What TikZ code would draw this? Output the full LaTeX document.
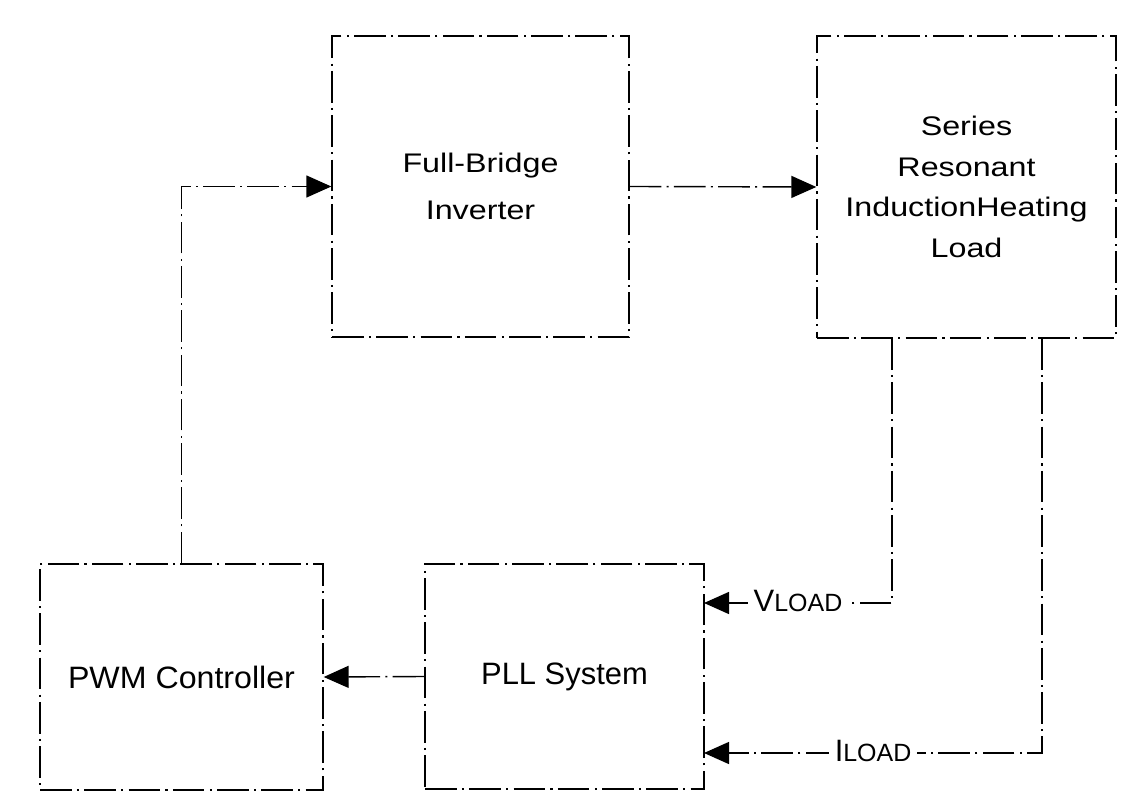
\documentclass[tikz,border=0pt]{standalone}
\usepackage{graphicx}
\usepackage{fontspec}
\setmainfont{Liberation Sans}
\usetikzlibrary{arrows.meta}
\begin{document}
\begin{tikzpicture}[x=0.02cm,y=-0.02cm,
  ln/.style={line width=0.8pt, dash pattern=on 18pt off 3pt on 1.2pt off 3pt},
  blk/.style={draw, ln, inner sep=0pt, align=center},
  toptxt/.style={font=\fontsize{15.3}{26.6}\selectfont},
  bottxt/.style={font=\fontsize{17.6}{21}\selectfont},
  conn/.style={ln, -{Triangle[length=0.5cm,width=0.44cm]}},
  sig/.style={fill=white, inner sep=3pt, font=\fontsize{17.6}{20}\selectfont}
]
\useasboundingbox (0,0) rectangle (1128,810);

% blocks
\node[blk, toptxt, minimum width=5.94cm, minimum height=6.02cm] (fb) at (480.5,186.5)
  {\scalebox{1.2}[1]{Full-Bridge}\\\scalebox{1.2}[1]{Inverter}};
\node[blk, font=\fontsize{15.3}{23.2}\selectfont, minimum width=5.98cm, minimum height=6.04cm] (srl) at (966.5,187)
  {\scalebox{1.2}[1]{Series}\\\scalebox{1.2}[1]{Resonant}\\\scalebox{1.2}[1]{InductionHeating}\\\scalebox{1.2}[1]{Load}};
\node[blk, bottxt, minimum width=5.66cm, minimum height=4.52cm] (pwm) at (181.5,677)
  {\scalebox{1.04}[1]{PWM Controller}};
\node[blk, bottxt, minimum width=5.58cm, minimum height=4.5cm] (pll) at (564.5,676.5)
  {PLL System};

% tap points and entry points
\coordinate (vtap) at (892,338);
\coordinate (itap) at (1042,338);
\coordinate (vin) at (704,603);
\coordinate (iin) at (704,753);

% connectors
\draw[conn] (pwm.north) |- (fb.west);
\draw[conn] (fb.east) -- (srl.west);
\draw[conn] (pll.west) -- (pwm.east);
\draw[conn] (vtap) |- (vin);
\draw[conn] (itap) |- (iin);

% signal labels
\node[sig] (vl) at (798,601) {V{\fontsize{14.2}{16}\selectfont LOAD}};
\node[sig] (il) at (873,751) {I{\fontsize{14.2}{16}\selectfont LOAD}};
\end{tikzpicture}
\end{document}
